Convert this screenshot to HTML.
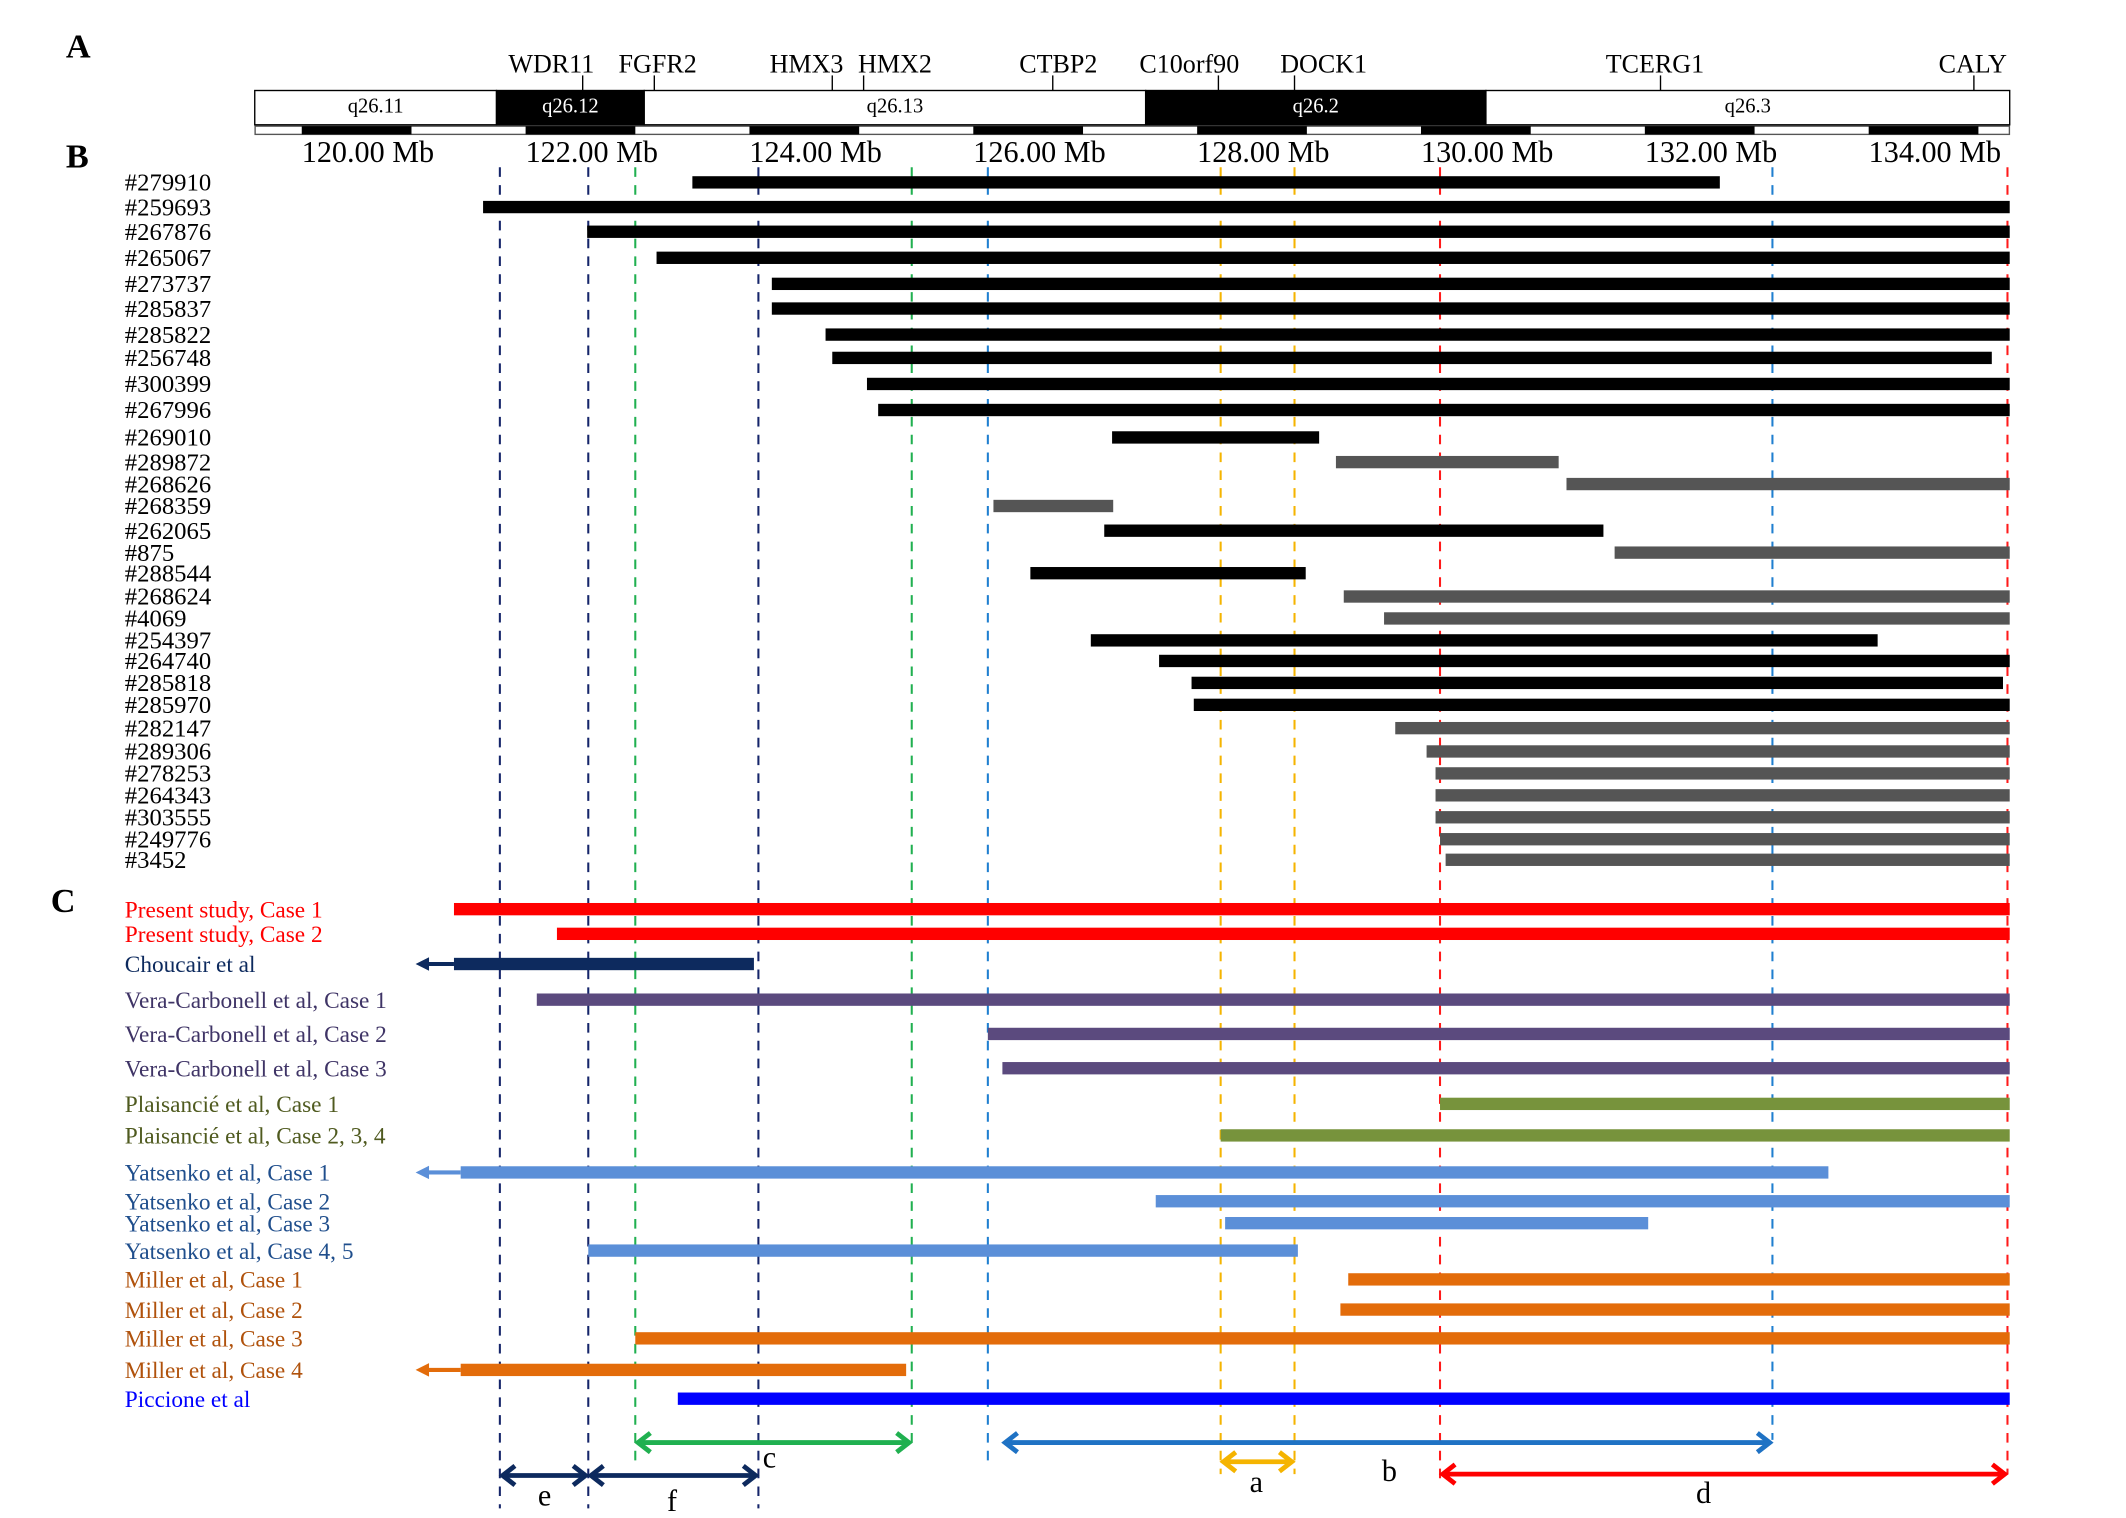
<!DOCTYPE html>
<html><head><meta charset="utf-8"><style>
html,body{margin:0;padding:0;background:#fff;}
svg{display:block;font-family:"Liberation Serif",serif;}
</style></head><body>
<svg id="chart" width="2126" height="1518" viewBox="0 0 1550 1107" preserveAspectRatio="none" xmlns="http://www.w3.org/2000/svg">
<g id="g"></g>
</svg>
<script>
// ---- data (Mb) ----
const bandNames = ["q26.11","q26.12","q26.13","q26.2","q26.3"];
const bandStarts = [119.58,121.74,123.06,127.54,130.58];
const bandEnds = [121.74,123.06,127.54,130.58,135.26];
const bandDark = [false,true,false,true,false];
const geneNames = ["WDR11","FGFR2","HMX3","HMX2","CTBP2","C10orf90","DOCK1","TCERG1","CALY"];
const genePos = [122.51,123.15,124.74,125.02,126.71,128.19,128.87,132.14,134.94];
const geneLabelPos = [122.23,123.18,124.51,125.3,126.76,127.93,129.13,132.09,134.93];
const tickMb = [120,122,124,126,128,130,132,134];
const tickLabels = ["120.00 Mb","122.00 Mb","124.00 Mb","126.00 Mb","128.00 Mb","130.00 Mb","132.00 Mb","134.00 Mb"];
const decNames = ["#279910","#259693","#267876","#265067","#273737","#285837","#285822","#256748","#300399","#267996","#269010","#289872","#268626","#268359","#262065","#875","#288544","#268624","#4069","#254397","#264740","#285818","#285970","#282147","#289306","#278253","#264343","#303555","#249776","#3452"];
const decStart = [123.49,121.62,122.55,123.17,124.20,124.20,124.68,124.74,125.05,125.15,127.24,129.24,131.30,126.18,127.17,131.73,126.51,129.31,129.67,127.05,127.66,127.95,127.97,129.77,130.05,130.13,130.13,130.13,130.17,130.22];
const decEnd = [132.67,135.26,135.26,135.26,135.26,135.26,135.26,135.10,135.26,135.26,129.09,131.23,135.26,127.25,131.63,135.26,128.97,135.26,135.26,134.08,135.26,135.20,135.26,135.26,135.26,135.26,135.26,135.26,135.26,135.26];
const decGray = [0,0,0,0,0,0,0,0,0,0,0,1,1,1,0,1,0,1,1,0,0,0,0,1,1,1,1,1,1,1];
const decY = [133,151,169,188,207,225,244,261,280,299,319,337,353,369,387,403,418,435,451,467,482,498,514,531,548,564,580,596,612,627];
const litNames = ["Present study, Case 1","Present study, Case 2","Choucair et al","Vera-Carbonell et al, Case 1","Vera-Carbonell et al, Case 2","Vera-Carbonell et al, Case 3","Plaisancié et al, Case 1","Plaisancié et al, Case 2, 3, 4","Yatsenko et al, Case 1","Yatsenko et al, Case 2","Yatsenko et al, Case 3","Yatsenko et al, Case 4, 5","Miller et al, Case 1","Miller et al, Case 2","Miller et al, Case 3","Miller et al, Case 4","Piccione et al"];
const litStart = [121.36,122.28,121.36,122.10,126.13,126.26,130.17,128.21,121.42,127.63,128.25,122.56,129.35,129.28,122.98,121.42,123.36];
const litEnd = [135.26,135.26,124.04,135.26,135.26,135.26,135.26,135.26,133.64,135.26,132.03,128.90,135.26,135.26,135.26,125.40,135.26];
const litExtends = [0,0,1,0,0,0,0,0,1,0,0,0,0,0,0,1,0];
const litGroup = [0,0,1,2,2,2,3,3,4,4,4,4,5,5,5,5,6];
const litY = [663,681,703,729,754,779,805,828,855,876,892,912,933,955,976,999,1020];
const regionNames = ["a","b","c","d","e","f"];
const regionStart = [128.21,126.26,122.98,130.17,121.77,122.56];
const regionEnd = [128.87,133.14,125.45,135.24,122.56,124.08];
const cutMb = [121.77,122.56,122.98,124.08,125.45,126.13,128.21,128.87,130.17,133.14,135.24];
const cutColor = ["#15256a","#15256a","#20b050","#15256a","#20b050","#1f7fd0","#f5b400","#f5b400","#ff1a1a","#1f7fd0","#ff1a1a"];
const cutBottom = [1100,1100,1070,1100,1055,1070,1075,1075,1080,1050,1075];

const groupBar = ["#ff0000","#0d2a5e","#5b4a7e","#77933c","#5b8fd8","#e36c0a","#0000ff"];
const groupText = ["#ff0000","#0d2a5e","#3f3466","#4f5a1f","#1f4e8c","#b0520c","#0000ff"];
const regionColor = {a:"#f5b400",b:"#1f72c4",c:"#20b050",d:"#ff0000",e:"#0d2a5e",f:"#0d2a5e"};
const regionY = {a:1066,b:1052,c:1052,d:1075,e:1076,f:1076};
const regionLabel = {a:[916,1088],b:[1013,1080],c:[561,1070],d:[1242,1096],e:[397,1098],f:[490,1102]};

function X(mb){return 220+(mb-120)*81.6;}
const NS="http://www.w3.org/2000/svg";
const G=document.getElementById('g');
function el(t,a,p){const e=document.createElementNS(NS,t);for(const k in a)e.setAttribute(k,a[k]);(p||G).appendChild(e);return e;}
function txt(x,y,s,size,fill,anchor,weight){const e=el('text',{x:x,y:y,'font-size':size,fill:fill||'#000','text-anchor':anchor||'start','font-weight':weight||'normal'});e.textContent=s;return e;}

let t;
t=txt(48,42,"A",25,"#000","start","bold");


t=txt(48,122,"B",25,"#000","start","bold");


t=txt(37,665,"C",25,"#000","start","bold");



// ideogram
for(let i=0;i<bandNames.length;i++){
  const x1=X(bandStarts[i]),x2=X(bandEnds[i]);
  const r=el('rect',{x:x1,y:66,width:x2-x1,height:25,fill:bandDark[i]?'#000':'#fff',stroke:'#000','stroke-width':1});
  
  
  const tt=txt((x1+x2)/2,82,bandNames[i],15,bandDark[i]?'#fff':'#000','middle');
  
  
}
for(let i=0;i<geneNames.length;i++){
  const x=X(genePos[i]);
  const l=el('line',{x1:x,y1:55,x2:x,y2:66,stroke:'#000','stroke-width':1});
  
  
  const tt=txt(X(geneLabelPos[i]),53,geneNames[i],19,'#000','middle');
  
  
}
// scale bar
let sb=el('rect',{x:186,y:92,width:1279,height:6,fill:'#fff',stroke:'#555','stroke-width':1});


for(let i=0;i<tickMb.length;i++){
  const x=X(tickMb[i]);
  const r=el('rect',{x:x,y:92,width:80,height:6,fill:'#000'});
  
  
  const tt=txt(x,118,tickLabels[i],22,'#000','start');
  
  
}
// dashed cut lines
for(let i=0;i<cutMb.length;i++){
  const x=X(cutMb[i]);
  const l=el('line',{x1:x,y1:122,x2:x,y2:cutBottom[i],stroke:cutColor[i],'stroke-width':1.5,'stroke-dasharray':'7,6'});
  
  
}
// decipher rows
for(let i=0;i<decNames.length;i++){
  const y=decY[i];
  const tt=txt(91,y+6,decNames[i],18,'#000','start');
  
  
  const x1=X(decStart[i]),x2=X(decEnd[i]);
  const r=el('rect',{x:x1,y:y-4.5,width:x2-x1,height:9,fill:decGray[i]?'#555':'#000'});
  
  
}
// literature rows
function arrowHead(x,y,dir,c,s){const p=dir<0?`${x},${y} ${x+s*1.4},${y-s*0.7} ${x+s*1.4},${y+s*0.7}`:`${x},${y} ${x-s*1.4},${y-s*0.7} ${x-s*1.4},${y+s*0.7}`;return el('polygon',{points:p,fill:c});}
for(let i=0;i<litNames.length;i++){
  const y=litY[i],g=litGroup[i];
  const tt=txt(91,y+6,litNames[i],17,groupText[g],'start');
  
  
  const x1=X(litStart[i]),x2=X(litEnd[i]);
  const r=el('rect',{x:x1,y:y-4.5,width:x2-x1,height:9,fill:groupBar[g]});
  
  
  if(litExtends[i]){
    const l=el('line',{x1:310,y1:y,x2:x1,y2:y,stroke:groupBar[g],'stroke-width':3});
    
    
    const a=arrowHead(303,y,-1,groupBar[g],7);
    
    
  }
}
// region arrows
function chevron(x,y,dir,c){return el('polyline',{points:`${x-dir*9},${y-7} ${x},${y} ${x-dir*9},${y+7}`,fill:'none',stroke:c,'stroke-width':3.5});}
for(let i=0;i<regionNames.length;i++){
  const n=regionNames[i],c=regionColor[n],y=regionY[n];
  const x1=X(regionStart[i]),x2=X(regionEnd[i]);
  const l=el('line',{x1:x1+2,y1:y,x2:x2-2,y2:y,stroke:c,'stroke-width':3.5});
  
  
  const h1=chevron(x1+2,y,-1,c);
  
  
  const h2=chevron(x2-2,y,1,c);
  
  
  const lp=regionLabel[n];
  const tt=txt(lp[0],lp[1],n,22,'#000','middle');
  
  
}
</script>
</body></html>
